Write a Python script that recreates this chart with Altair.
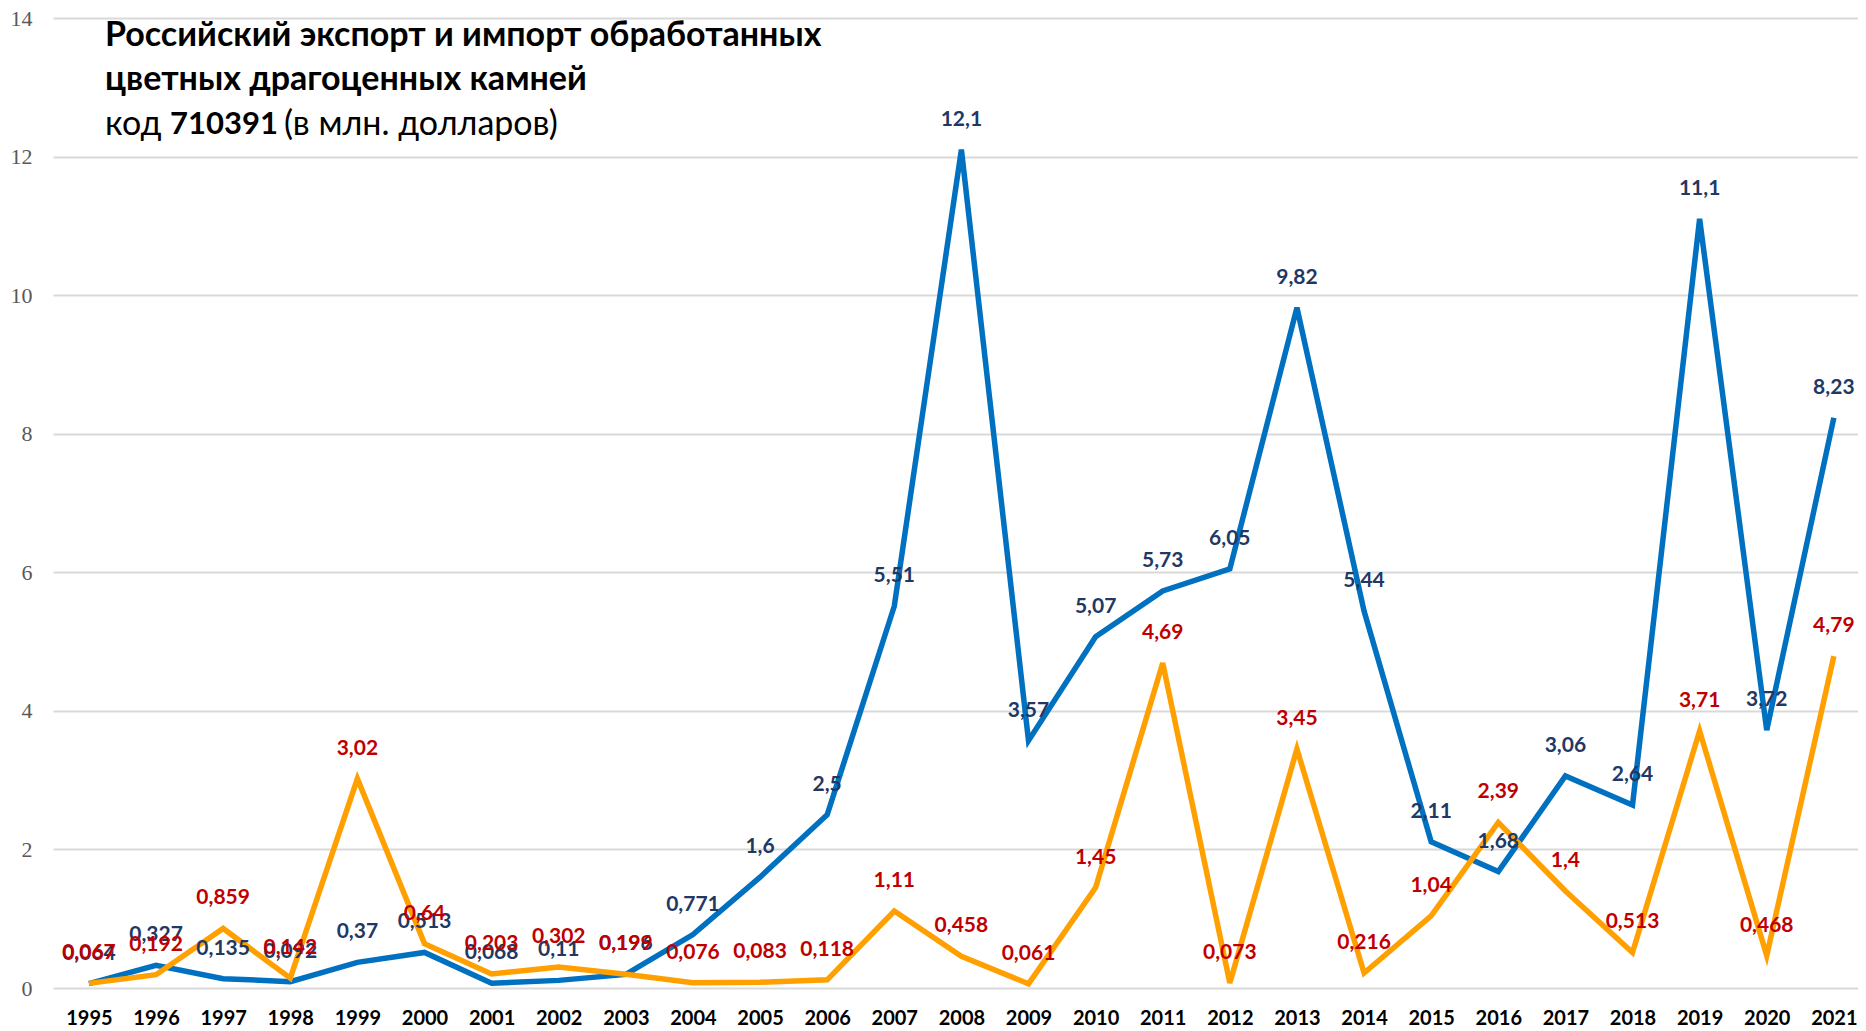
import altair as alt
import pandas as pd

years = list(range(1995, 2022))
export_vals = [0.064, 0.327, 0.135, 0.092, 0.37, 0.513, 0.068, 0.11, 0.196, 0.771,
               1.6, 2.5, 5.51, 12.1, 3.57, 5.07, 5.73, 6.05, 9.82, 5.44,
               2.11, 1.68, 3.06, 2.64, 11.1, 3.72, 8.23]
import_vals = [0.067, 0.192, 0.859, 0.142, 3.02, 0.64, 0.203, 0.302, 0.199, 0.076,
               0.083, 0.118, 1.11, 0.458, 0.061, 1.45, 4.69, 0.073, 3.45, 0.216,
               1.04, 2.39, 1.4, 0.513, 3.71, 0.468, 4.79]
y_ticks = [0, 2, 4, 6, 8, 10, 12, 14]

title_line1 = "Российский экспорт и импорт обработанных"
title_line2 = "цветных драгоценных камней"
title_code_a = "код"
title_code_b = "710391"
title_code_c = "(в млн. долларов)"


def fmt(v):
    return str(v).replace(".", ",")


exp_df = pd.DataFrame({"year": years, "value": export_vals,
                       "label": [fmt(v) for v in export_vals]})
imp_df = pd.DataFrame({"year": years, "value": import_vals,
                       "label": [fmt(v) for v in import_vals]})

FONT = "Lato"

x_enc = alt.X("year:Q",
              scale=alt.Scale(domain=[1994.4645, 2021.36], nice=False, zero=False),
              axis=alt.Axis(values=years, format="d", title=None, grid=False,
                            ticks=False, domain=False, labelFont=FONT,
                            labelFontWeight="bold", labelFontSize=20,
                            labelColor="#000000", labelPadding=20,
                            labelFlush=False, labelOverlap=False))
y_enc = alt.Y("value:Q",
              scale=alt.Scale(domain=[0, 14], nice=False),
              axis=alt.Axis(values=y_ticks, format="d", title=None, grid=True,
                            gridColor="#D9D9D9", gridWidth=2, ticks=False,
                            domain=False, labelFont="Liberation Serif",
                            labelFontSize=22, labelColor="#595959",
                            labelPadding=21))

exp_line = alt.Chart(exp_df).mark_line(color="#0070C0", strokeWidth=5.5).encode(x=x_enc, y=y_enc)
imp_line = alt.Chart(imp_df).mark_line(color="#FFA000", strokeWidth=5.5).encode(x=x_enc, y=y_enc)

exp_text = alt.Chart(exp_df).mark_text(font=FONT, fontWeight="bold", fontSize=21,
                                       color="#1F3864", dy=-30, baseline="middle").encode(
    x="year:Q", y="value:Q", text="label:N")
imp_text = alt.Chart(imp_df).mark_text(font=FONT, fontWeight="bold", fontSize=21,
                                       color="#C00000", dy=-30, baseline="middle").encode(
    x="year:Q", y="value:Q", text="label:N")


def title_text(txt, x, y, weight, size):
    return alt.Chart(pd.DataFrame({"t": [txt]})).mark_text(
        font=FONT, fontSize=size, fontWeight=weight, color="#000000",
        align="left", baseline="middle").encode(
        x=alt.value(x), y=alt.value(y), text="t:N")


titles = [
    title_text(title_line1, 52, 18, "bold", 34),
    title_text(title_line2, 52, 62, "bold", 34),
    title_text(title_code_a, 52, 107, "normal", 34),
    title_text(title_code_b, 117, 107, "bold", 31),
    title_text(title_code_c, 231, 107, "normal", 34),
]

chart = alt.layer(exp_line, imp_line, exp_text, imp_text, *titles).properties(
    width=1805, height=970,
    autosize=alt.AutoSizeParams(type="none"),
    padding={"left": 45, "top": 10, "right": 0, "bottom": 43},
    background="#FFFFFF",
).configure_view(stroke=None)

chart.save("out.html", embed_options={"renderer": "svg", "actions": False})
